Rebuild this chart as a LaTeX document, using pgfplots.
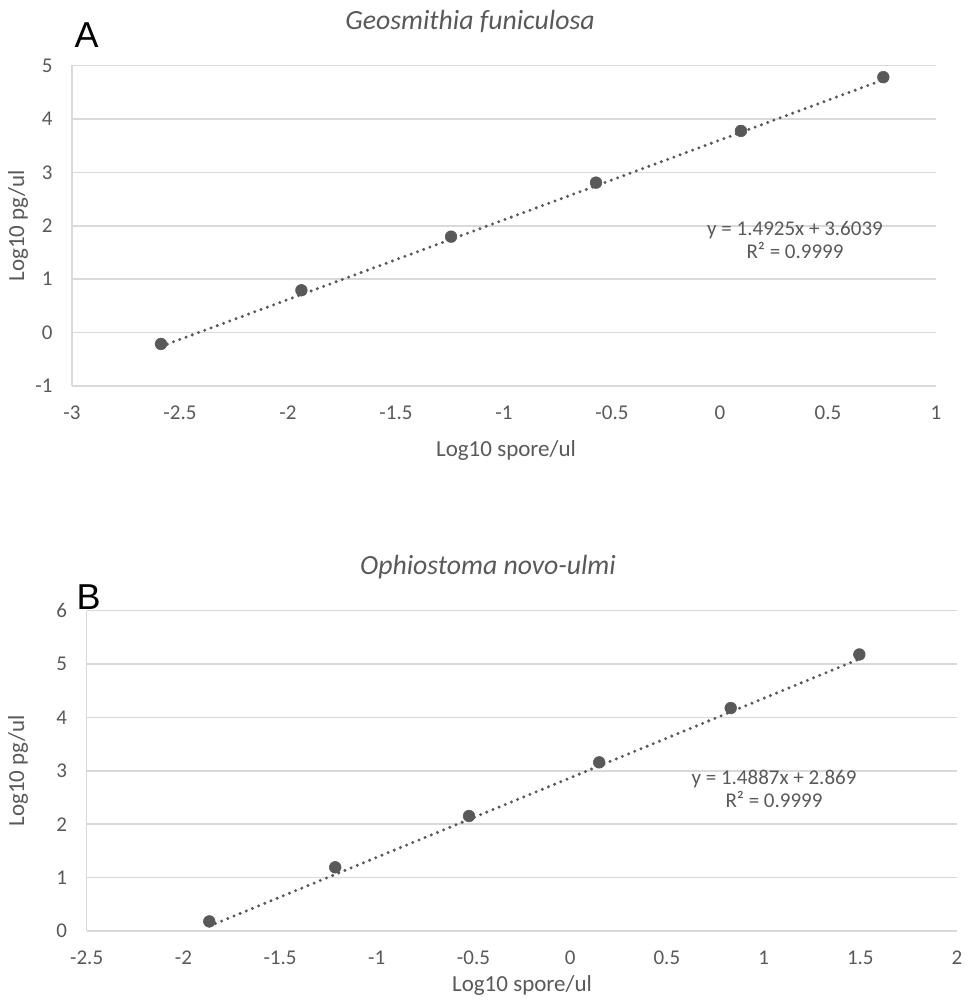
\documentclass[border=0pt]{standalone}
\usepackage{fontspec}
\setmainfont{Carlito}
\newfontfamily\letterfont{Liberation Sans}
\usepackage{pgfplots}
\pgfplotsset{compat=1.18}
\definecolor{txt}{HTML}{595959}
\definecolor{grd}{HTML}{D9D9D9}
\definecolor{mk}{HTML}{595959}

\pgfplotsset{
  xlpanel/.style={
    scale only axis,
    axis lines*=left,
    axis line style={grd,line width=1.2pt},
    ymajorgrids, grid style={grd,line width=1.2pt},
    major tick length=0pt,
    /pgf/number format/assume math mode=true,
    tick label style={font=\fontsize{15.75}{18}\selectfont,text=txt,inner sep=0pt},
    yticklabel style={anchor=east,xshift=-14.5pt},
    xticklabel style={anchor=north,yshift=-15pt},
    clip=false,
  },
  trend/.style={mk,line width=2.5pt,dash pattern=on 0pt off 5pt,line cap=round},
  pts/.style={only marks,mark=*,mark size=4.4pt,mark options={fill=mk,draw=mk}},
}

\begin{document}
\begin{tikzpicture}
\path[use as bounding box] (0,0) rectangle (726pt,-754.5pt);

% panel A
\begin{axis}[xlpanel,at={(54pt,-289.5pt)},anchor=south west,
  width=648pt,height=240.4pt,
  xmin=-3,xmax=1,ymin=-1,ymax=5,
  xtick={-3,-2.5,...,1},ytick={-1,0,...,5}]
\addplot[trend] coordinates {(-2.588,-0.2587) (0.756,4.7322)};
\addplot[pts] coordinates {
  (-2.588,-0.213) (-1.938,0.792) (-1.245,1.796)
  (-0.574,2.807) (0.097,3.775) (0.756,4.781)};
\end{axis}

% panel B
\begin{axis}[xlpanel,at={(65pt,-698.25pt)},anchor=south west,
  width=652.75pt,height=240.25pt,
  xmin=-2.5,xmax=2,ymin=0,ymax=6,
  xtick={-2.5,-2,...,2},ytick={0,1,...,6}]
\addplot[trend] coordinates {(-1.866,0.0911) (1.495,5.0946)};
\addplot[pts] coordinates {
  (-1.866,0.180) (-1.215,1.193) (-0.523,2.154)
  (0.150,3.159) (0.830,4.176) (1.495,5.180)};
\end{axis}

% texts
\node[font=\letterfont\fontsize{27}{30}\selectfont] at (65pt,-26pt) {A};
\node[font=\letterfont\fontsize{27}{30}\selectfont] at (66.5pt,-447.75pt) {B};
\node[font=\itshape\fontsize{20.8}{24}\selectfont,text=txt] at (352.5pt,-15.75pt) {Geosmithia funiculosa};
\node[font=\itshape\fontsize{20.8}{24}\selectfont,text=txt] at (366pt,-425.25pt) {Ophiostoma novo-ulmi};
\node[font=\fontsize{17.25}{20}\selectfont,text=txt] at (379.5pt,-337.5pt) {Log10 spore/ul};
\node[font=\fontsize{17.25}{20}\selectfont,text=txt] at (391.5pt,-738.75pt) {Log10 spore/ul};
\node[font=\fontsize{17.25}{20}\selectfont,text=txt,rotate=90] at (13.5pt,-169.5pt) {Log10 pg/ul};
\node[font=\fontsize{17.25}{20}\selectfont,text=txt,rotate=90] at (13.5pt,-578.25pt) {Log10 pg/ul};
\node[font=\fontsize{15.75}{18}\selectfont,text=txt,align=center] at (596.25pt,-180pt) {y = 1.4925x + 3.6039\\[-0.9pt] R² = 0.9999};
\node[font=\fontsize{15.75}{18}\selectfont,text=txt,align=center] at (580.5pt,-591.75pt) {y = 1.4887x + 2.869\\[-0.9pt] R² = 0.9999};
\end{tikzpicture}
\end{document}
